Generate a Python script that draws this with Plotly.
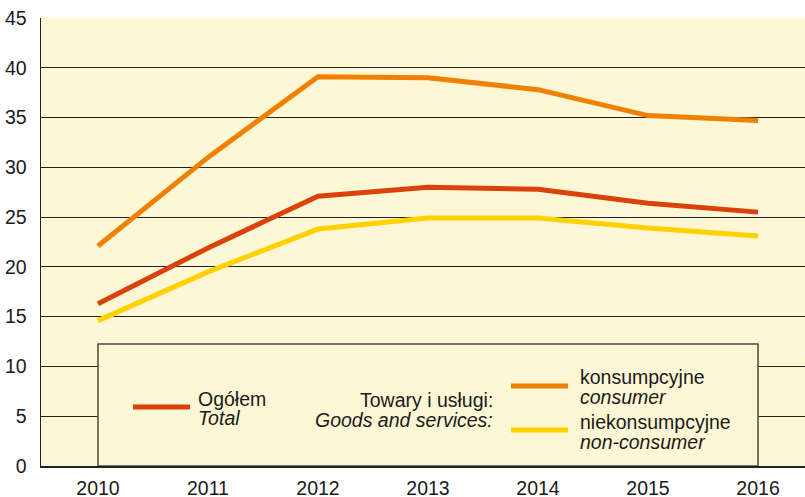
import plotly.graph_objects as go

years = [2010, 2011, 2012, 2013, 2014, 2015, 2016]
total = [16.3, 21.9, 27.1, 28.0, 27.8, 26.4, 25.5]
consumer = [22.1, 31.0, 39.1, 39.0, 37.8, 35.2, 34.7]
non_consumer = [14.6, 19.5, 23.8, 24.9, 24.9, 23.9, 23.1]
y_ticks = [0, 5, 10, 15, 20, 25, 30, 35, 40, 45]

RED = "#D9420B"
ORANGE = "#F08000"
YELLOW = "#FFD100"
BG = "#FEF7D5"
FONT = "Liberation Sans, Arial, sans-serif"
FS = 19.5

W, H = 805, 497
L, R, T, B = 41, 0, 18, 31
XR = [2009.482, 2016.427]
YR = [0, 45]

def px_x(px):
    return XR[0] + (px - L) / (W - L - R) * (XR[1] - XR[0])

def px_y(py):
    return YR[0] + (H - B - py) / (H - T - B) * (YR[1] - YR[0])

fig = go.Figure()
for vals, col, name in [(consumer, ORANGE, "konsumpcyjne"), (total, RED, "Ogółem"),
                        (non_consumer, YELLOW, "niekonsumpcyjne")]:
    fig.add_trace(go.Scatter(x=years, y=vals, mode="lines", name=name,
                             line=dict(color=col, width=5), showlegend=False))

shapes = [
    dict(type="rect", xref="x", yref="y", x0=2010, x1=2016, y0=0, y1=px_y(344),
         fillcolor=BG, line=dict(color="#4a4a40", width=1.5), layer="above"),
    dict(type="line", xref="x", yref="y", x0=px_x(133), x1=px_x(190), y0=px_y(407), y1=px_y(407),
         line=dict(color=RED, width=5), layer="above"),
    dict(type="line", xref="x", yref="y", x0=px_x(511), x1=px_x(568), y0=px_y(386), y1=px_y(386),
         line=dict(color=ORANGE, width=5), layer="above"),
    dict(type="line", xref="x", yref="y", x0=px_x(511), x1=px_x(568), y0=px_y(430), y1=px_y(430),
         line=dict(color=YELLOW, width=5), layer="above"),
]

def ann(text, px, py, anchor="left"):
    return dict(text=text, xref="x", yref="y", x=px_x(px), y=px_y(py), showarrow=False,
                xanchor=anchor, yanchor="middle", borderpad=0,
                font=dict(family=FONT, size=FS, color="#1a1a1a"))

annotations = [
    ann("Ogółem", 197, 399),
    ann("<i>Total</i>", 197, 418),
    ann("Towary i usługi:", 494, 400, "right"),
    ann("<i>Goods and services:</i>", 494, 420, "right"),
    ann("konsumpcyjne", 579, 377),
    ann("<i>consumer</i>", 579, 397),
    ann("niekonsumpcyjne", 579, 422),
    ann("<i>non-consumer</i>", 579, 442),
]

fig.update_layout(
    width=W, height=H,
    margin=dict(l=L, r=R, t=T, b=B, autoexpand=False),
    paper_bgcolor="white", plot_bgcolor=BG,
    font=dict(family=FONT, size=FS, color="#1a1a1a"),
    shapes=shapes, annotations=annotations,
    xaxis=dict(range=XR, tickmode="array", tickvals=years, ticktext=[str(y) for y in years],
               showgrid=False, zeroline=False, showline=True, linecolor="#222", linewidth=1.5,
               ticks="", ticklabelstandoff=4, fixedrange=True, automargin=False),
    yaxis=dict(range=YR, tickmode="array", tickvals=y_ticks, showgrid=True, gridcolor="#222",
               gridwidth=1, zeroline=False, showline=True, linecolor="#222", linewidth=1.5,
               ticks="", ticklabelstandoff=9, fixedrange=True, automargin=False),
)

fig.write_html(
    "out.html",
    config={"displayModeBar": False, "staticPlot": True},
    post_script="document.body.style.margin='0';document.body.style.overflow='hidden';",
)
